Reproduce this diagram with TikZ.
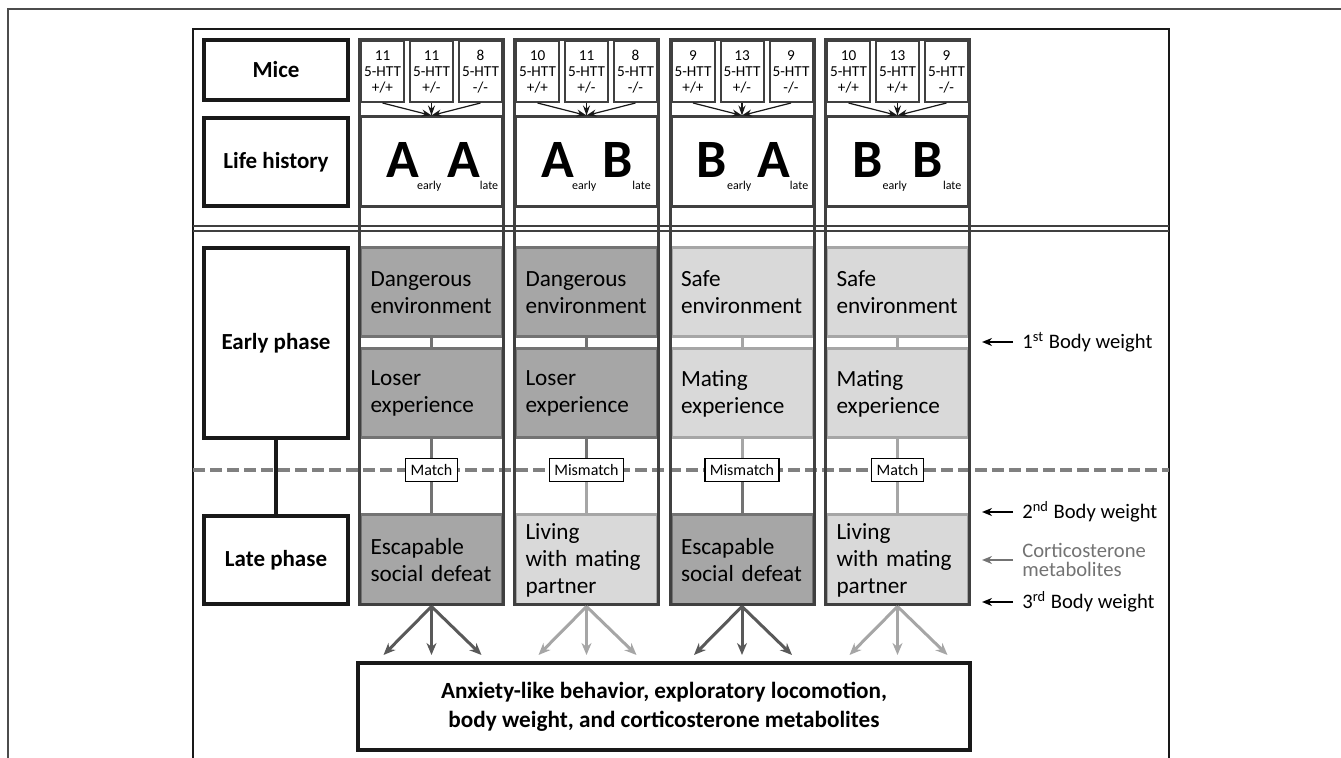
\documentclass[tikz,border=0pt]{standalone}
\usepackage{fontspec}
\setmainfont{Carlito}
\usetikzlibrary{arrows.meta}
\newcommand{\lhsub}[1]{\raisebox{-6pt}{\fontsize{6}{6}\selectfont\mdseries #1}}

\begin{document}
\begin{tikzpicture}[x=0.5pt, y=-0.5pt,
    every node/.style={font=\fontsize{11}{13}\selectfont, inner sep=0pt},
    lab/.style={draw=black!90, line width=2pt, fill=white, font=\fontsize{11.5}{13}\selectfont\bfseries, minimum width=72pt, align=center},
    colfr/.style={draw=black!75, line width=1.5pt},
    geno/.style={draw=black!75, line width=1pt, fill=white, minimum width=21.5pt, minimum height=30.5pt, align=center, font=\fontsize{7.6}{8}\selectfont},
    hist/.style={draw=black!75, line width=1.5pt, fill=white, minimum width=71pt, minimum height=45pt},
    lhist/.style={anchor=base west, font=\fontsize{27}{27}\selectfont\bfseries},
    dkbox/.style={draw=black!55, fill=black!35, line width=1.5pt, text width=61pt, inner xsep=5pt, minimum height=44.5pt, align=left, font=\fontsize{11.6}{13.5}\selectfont},
    ltbox/.style={dkbox, draw=black!35, fill=black!15},
    dkline/.style={draw=black!55, line width=1.5pt},
    ltline/.style={draw=black!35, line width=1.5pt},
    matchbox/.style={draw=black, line width=0.75pt, fill=white, inner xsep=2.5pt, minimum height=11.5pt, font=\fontsize{8}{8}\selectfont},
    marr/.style={-{Stealth[length=5pt, width=3.5pt]}, line width=0.6pt, black!90},
    dkarr/.style={-{Stealth[length=6pt, width=5pt]}, line width=1.5pt, black!65},
    ltarr/.style={-{Stealth[length=6pt, width=5pt]}, line width=1.5pt, black!35},
    rarr/.style={-{Stealth[length=5pt, width=4pt]}, line width=1pt, black},
    rlab/.style={anchor=west, inner xsep=4.5pt, font=\fontsize{10.3}{9.5}\selectfont, align=left}
]
    \useasboundingbox (0,0) rectangle (1341,758);

    % frames and dividers
    \draw[black!70, line width=0.75pt] (8,758) -- (8,9) -- (1341,9);
    \draw[black!90, line width=1pt] (193,758) -- (193,29) -- (1169,29) -- (1169,758);
    \draw[black!75, line width=1pt] (193,226) -- (1169,226);
    \draw[black!75, line width=1pt] (193,231) -- (1169,231);
    \draw[black!50, line width=2pt, dash pattern=on 6pt off 2.5pt] (193,470) -- (1169,470);

    % row labels
    \node[lab, minimum height=30pt] (mice) at (276,70) {Mice};
    \node[lab, minimum height=44pt] (life) at (276,162) {Life history};
    \node[lab, minimum height=95pt] (early) at (276,343.5) {Early phase};
    \node[lab, minimum height=44pt] (late) at (276,560) {Late phase};
    \draw[line width=2pt, black!90] (early.south) -- (late.north);

    % group AA
    \node[geno] (g11) at (382.5,71.5) {11\\5-HTT\\+/+};
    \node[geno] (g12) at (431.5,71.5) {11\\5-HTT\\+/-};
    \node[geno] (g13) at (480.5,71.5) {8\\5-HTT\\-/-};
    \node[hist] (h1) at (431.5,162) {};
    \node[lhist] (lh1) at (386,178) {A\kern-1pt\lhsub{early}\hspace{3pt}A\lhsub{late}};
    \node[dkbox] (ea1) at (431.5,292.5) {Dangerous\\environment};
    \node[dkbox] (eb1) at (431.5,393.5) {Loser\\experience};
    \node[dkbox, minimum height=45pt] (s1) at (431.5,560) {Escapable\\social defeat};
    \node[matchbox] (m1) at (431.5,470) {Match};
    \draw[dkline] (ea1.south) -- (eb1.north);
    \draw[dkline] (eb1.south) -- (m1.north);
    \draw[dkline] (m1.south) -- (s1.north);
    \draw[colfr] (359.5,40) rectangle (503.5,604.5);
    \draw[marr] (g11.south) -- (h1.north);
    \draw[marr] (g12.south) -- (h1.north);
    \draw[marr] (g13.south) -- (h1.north);

    % group AB
    \node[geno] (g21) at (537.5,71.5) {10\\5-HTT\\+/+};
    \node[geno] (g22) at (586.5,71.5) {11\\5-HTT\\+/-};
    \node[geno] (g23) at (635.5,71.5) {8\\5-HTT\\-/-};
    \node[hist] (h2) at (586.5,162) {};
    \node[lhist] (lh2) at (541,178) {A\kern-1pt\lhsub{early}\hspace{3pt}B\lhsub{late}};
    \node[dkbox] (ea2) at (586.5,292.5) {Dangerous\\environment};
    \node[dkbox] (eb2) at (586.5,393.5) {Loser\\experience};
    \node[ltbox, minimum height=45pt] (s2) at (586.5,560) {Living\\with mating\\partner};
    \node[matchbox] (m2) at (586.5,470) {Mismatch};
    \draw[dkline] (ea2.south) -- (eb2.north);
    \draw[dkline] (eb2.south) -- (m2.north);
    \draw[ltline] (m2.south) -- (s2.north);
    \draw[colfr] (514.5,40) rectangle (658.5,604.5);
    \draw[marr] (g21.south) -- (h2.north);
    \draw[marr] (g22.south) -- (h2.north);
    \draw[marr] (g23.south) -- (h2.north);

    % group BA
    \node[geno] (g31) at (693,71.5) {9\\5-HTT\\+/+};
    \node[geno] (g32) at (742,71.5) {13\\5-HTT\\+/-};
    \node[geno] (g33) at (791,71.5) {9\\5-HTT\\-/-};
    \node[hist] (h3) at (742,162) {};
    \node[lhist] (lh3) at (696.5,178) {B\lhsub{early}\hspace{3pt}A\lhsub{late}};
    \node[ltbox] (ea3) at (742,292.5) {Safe\\environment};
    \node[ltbox] (eb3) at (742,393.5) {Mating\\experience};
    \node[dkbox, minimum height=45pt] (s3) at (742,560) {Escapable\\social defeat};
    \node[matchbox] (m3) at (742,470) {Mismatch};
    \draw[ltline] (ea3.south) -- (eb3.north);
    \draw[ltline] (eb3.south) -- (m3.north);
    \draw[dkline] (m3.south) -- (s3.north);
    \draw[colfr] (670,40) rectangle (814,604.5);
    \draw[marr] (g31.south) -- (h3.north);
    \draw[marr] (g32.south) -- (h3.north);
    \draw[marr] (g33.south) -- (h3.north);

    % group BB
    \node[geno] (g41) at (848.5,71.5) {10\\5-HTT\\+/+};
    \node[geno] (g42) at (897.5,71.5) {13\\5-HTT\\+/+};
    \node[geno] (g43) at (946.5,71.5) {9\\5-HTT\\-/-};
    \node[hist] (h4) at (897.5,162) {};
    \node[lhist] (lh4) at (852,178) {B\lhsub{early}\hspace{3pt}B\lhsub{late}};
    \node[ltbox] (ea4) at (897.5,292.5) {Safe\\environment};
    \node[ltbox] (eb4) at (897.5,393.5) {Mating\\experience};
    \node[ltbox, minimum height=45pt] (s4) at (897.5,560) {Living\\with mating\\partner};
    \node[matchbox] (m4) at (897.5,470) {Match};
    \draw[ltline] (ea4.south) -- (eb4.north);
    \draw[ltline] (eb4.south) -- (m4.north);
    \draw[ltline] (m4.south) -- (s4.north);
    \draw[colfr] (825.5,40) rectangle (969.5,604.5);
    \draw[marr] (g41.south) -- (h4.north);
    \draw[marr] (g42.south) -- (h4.north);
    \draw[marr] (g43.south) -- (h4.north);

    % outcome box
    \node[lab, minimum width=306pt, minimum height=43.5pt, font=\fontsize{11.6}{14.5}\selectfont\bfseries] (out) at (664,706.5) {Anxiety-like behavior, exploratory locomotion,\\body weight, and corticosterone metabolites};
    \coordinate (t1a) at (383.5,655); \coordinate (t1b) at (431.5,655); \coordinate (t1c) at (481.5,655);
    \coordinate (t2a) at (538.5,655); \coordinate (t2b) at (586.5,655); \coordinate (t2c) at (636.5,655);
    \coordinate (t3a) at (694,655); \coordinate (t3b) at (742,655); \coordinate (t3c) at (792,655);
    \coordinate (t4a) at (849.5,655); \coordinate (t4b) at (897.5,655); \coordinate (t4c) at (947.5,655);
    \draw[dkarr] (s1.south) -- (t1a);
    \draw[dkarr] (s1.south) -- (t1b);
    \draw[dkarr] (s1.south) -- (t1c);
    \draw[ltarr] (s2.south) -- (t2a);
    \draw[ltarr] (s2.south) -- (t2b);
    \draw[ltarr] (s2.south) -- (t2c);
    \draw[dkarr] (s3.south) -- (t3a);
    \draw[dkarr] (s3.south) -- (t3b);
    \draw[dkarr] (s3.south) -- (t3c);
    \draw[ltarr] (s4.south) -- (t4a);
    \draw[ltarr] (s4.south) -- (t4b);
    \draw[ltarr] (s4.south) -- (t4c);

    % measurements
    \node[rlab] (bw1) at (1013,342) {1\textsuperscript{st} Body weight};
    \node[rlab] (bw2) at (1013,512) {2\textsuperscript{nd} Body weight};
    \node[rlab, text=black!55] (cort) at (1013,560) {Corticosterone\\metabolites};
    \node[rlab] (bw3) at (1013,602) {3\textsuperscript{rd} Body weight};
    \coordinate (bw1t) at (982,342);
    \coordinate (bw2t) at (982,512);
    \coordinate (cortt) at (982,560);
    \coordinate (bw3t) at (982,602);
    \draw[rarr] (bw1.west) -- (bw1t);
    \draw[rarr] (bw2.west) -- (bw2t);
    \draw[rarr, black!55] (cort.west) -- (cortt);
    \draw[rarr] (bw3.west) -- (bw3t);
\end{tikzpicture}
\end{document}
